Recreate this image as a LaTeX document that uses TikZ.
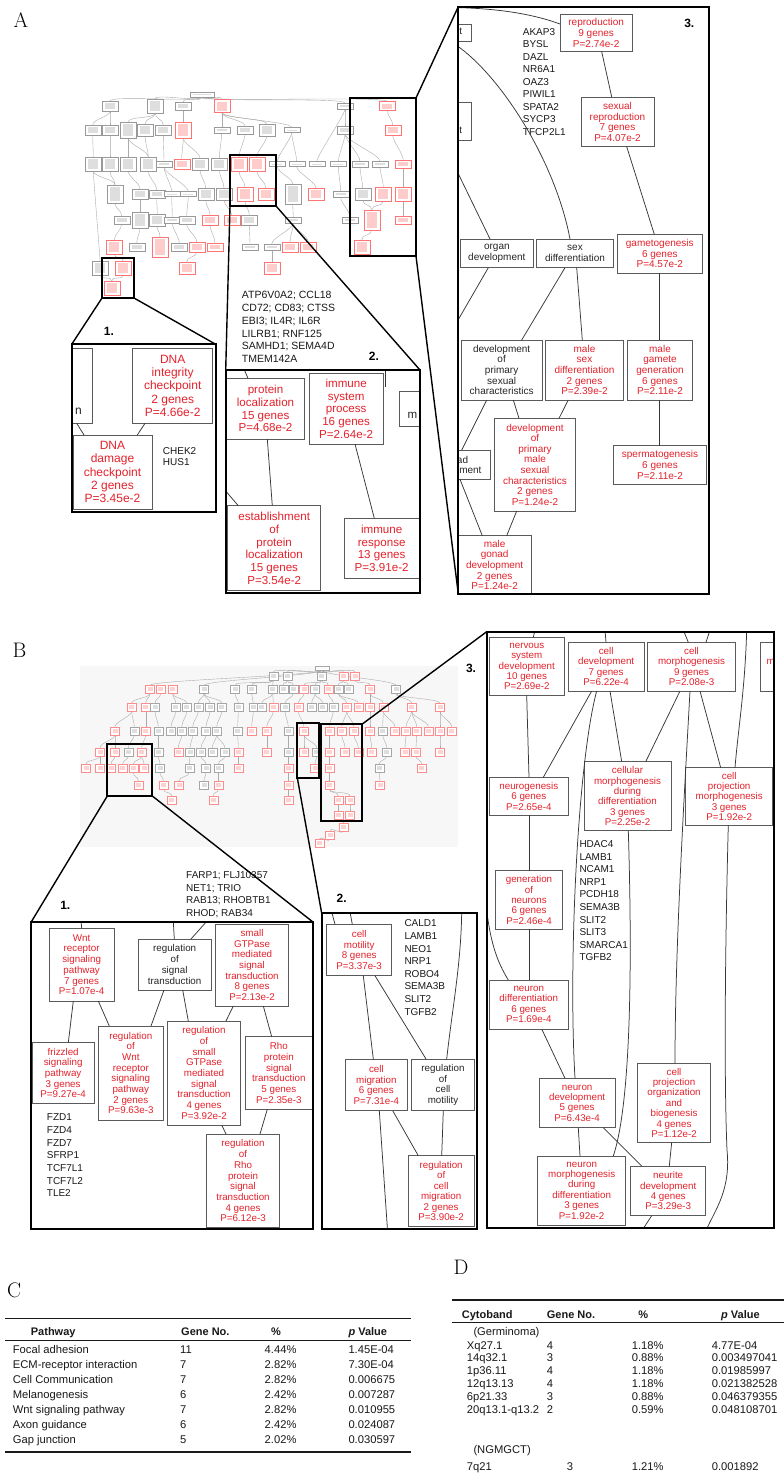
\documentclass[tikz,border=0pt]{standalone}
\usepackage{fontspec}
\newfontfamily\arial{Liberation Sans}
\usetikzlibrary{calc}
\definecolor{gored}{RGB}{228,34,44}
\definecolor{boxgray}{RGB}{90,90,90}
\definecolor{linegray}{RGB}{55,55,55}
\definecolor{tabtext}{RGB}{25,25,25}
\pgfdeclarelayer{bg}
\pgfsetlayers{bg,main}
\newcommand\BX[7][]{\node[#1,minimum width={(#5-#3)*1pt},minimum height={(#6-#4)*1pt}] (#2) at ({(#3+#5)/2},{(#4+#6)/2}) {#7};}
\tikzset{
  gob/.style={rectangle,draw=boxgray,line width=0.8pt,fill=white,inner sep=1pt,outer sep=0pt,align=center,text=gored},
  gok/.style={gob,text=black!85},
  fA1/.style={font=\arial\fontsize{12}{13.3}\selectfont},
  fA2/.style={font=\arial\fontsize{11.6}{12.7}\selectfont},
  fA3/.style={font=\arial\fontsize{10}{10.6}\selectfont},
  fB1/.style={font=\arial\fontsize{9.8}{10.7}\selectfont},
  fB2/.style={font=\arial\fontsize{9.8}{10.5}\selectfont},
  fB3/.style={font=\arial\fontsize{9.8}{10.4}\selectfont},
  glist/.style={anchor=west,align=left,inner sep=0pt,text=black!90,font=\arial\fontsize{10}{12.5}\selectfont},
  frag/.style={inner sep=0pt,text=black!85},
  conn/.style={draw=linegray,line width=0.75pt},
  panelbox/.style={rectangle,draw=black,line width=1.8pt,inner sep=0pt,outer sep=0pt},
  zoombox/.style={rectangle,draw=black,line width=1.8pt,inner sep=0pt,outer sep=0pt},
  zoomline/.style={draw=black,line width=1.4pt},
  numlab/.style={font=\arial\bfseries\fontsize{12}{12}\selectfont,inner sep=0pt},
  panlab/.style={font=\fontsize{21}{21}\selectfont,inner sep=0pt},
  tbase/.style={rectangle,inner sep=0pt,outer sep=0pt,fill=white,line width=0.4pt,minimum width=16pt},
  tbg/.style={tbase,draw=black!40,path picture={\fill[black!13] ([shift={(3pt,-2pt)}]path picture bounding box.north west) rectangle ([shift={(-3pt,2pt)}]path picture bounding box.south east);}},
  tbr/.style={tbase,draw=red!55,path picture={\fill[red!20] ([shift={(3pt,-2pt)}]path picture bounding box.north west) rectangle ([shift={(-3pt,2pt)}]path picture bounding box.south east);}},
  sbase/.style={rectangle,inner sep=0pt,outer sep=0pt,fill=white,line width=0.35pt,minimum width=9pt,minimum height=8pt},
  sbg/.style={sbase,draw=black!35,path picture={\fill[black!13] ([shift={(2pt,-2pt)}]path picture bounding box.north west) rectangle ([shift={(-2pt,2pt)}]path picture bounding box.south east);}},
  sbr/.style={sbase,draw=red!45,path picture={\fill[red!18] ([shift={(2pt,-2pt)}]path picture bounding box.north west) rectangle ([shift={(-2pt,2pt)}]path picture bounding box.south east);}},
  thedge/.style={draw=black!33,line width=0.4pt},
  tabt/.style={font=\arial\fontsize{11.2}{13}\selectfont,text=tabtext,inner sep=0pt},
  tabh/.style={font=\arial\bfseries\fontsize{11}{13}\selectfont,text=tabtext,inner sep=0pt},
}
\begin{document}
\begin{tikzpicture}[x=1pt,y=-1pt]
\useasboundingbox (0,0) rectangle (784,1473);
\begin{pgfonlayer}{bg}
\fill[white] (0,0) rectangle (784,1473);
\fill[black!3] (80,666) rectangle (458,847);
\end{pgfonlayer}

% ---------- panel labels
\node[panlab] (labA) at (21,20.3) {A};
\node[panlab] (labB) at (19.5,650.8) {B};
\node[panlab] (labC) at (14.2,1290.8) {C};
\node[panlab] (labD) at (461,1267.5) {D};

% ---------- thumbnail A
\node[tbg,minimum width=24pt,minimum height=5pt] (a0-1) at (201.7,94.3) {};
\foreach \x/\c/\h [count=\k] in {110/tbg/10,155/tbg/14,183.3/tbg/8,221.7/tbr/13,345/tbg/6,387.3/tbr/9}
  \node[\c,minimum height=\h pt] (a1-\k) at (\x,106) {};
\foreach \x/\c/\h [count=\k] in {92.7/tbg/10,110/tbg/10,128.3/tbg/16,145/tbg/12,163.3/tbg/10,183.3/tbr/16,221.7/tbg/6,245/tbg/8,266.7/tbg/12,291.7/tbg/5,345/tbg/8,392.7/tbr/10}
  \node[\c,minimum height=\h pt] (a2-\k) at (\x,130) {};
\foreach \x/\c/\h [count=\k] in {93.3/tbg/14,110/tbg/14,128.3/tbg/14,148.3/tbg/14,164/tbg/6,181.7/tbr/10,200/tbg/12,219.3/tbg/12,239/tbr/14,256.7/tbr/14,277.3/tbg/5,296.7/tbg/5,316.7/tbg/5,338.3/tbg/5,360/tbg/6,380/tbg/6,403.3/tbr/8}
  \node[\c,minimum height=\h pt] (a3-\k) at (\x,164) {};
\foreach \x/\c/\h [count=\k] in {115/tbg/18,140/tbg/10,156.7/tbg/8,171.7/tbg/5,188.3/tbg/5,205.7/tbg/12,224/tbg/12,245/tbr/14,266/tbr/12,292.7/tbg/20,316/tbr/12,340.7/tbg/6,362.7/tbg/12,383.3/tbr/14,403.3/tbr/14}
  \node[\c,minimum height=\h pt] (a4-\k) at (\x,194) {};
\foreach \x/\c/\h [count=\k] in {121.7/tbg/8,140/tbg/16,157.3/tbg/12,172.3/tbg/6,186.7/tbg/8,210/tbr/10,231.7/tbr/10,249.3/tbg/10,293.3/tbg/6,350/tbg/6,371.7/tbr/20,403.3/tbr/8}
  \node[\c,minimum height=\h pt] (a5-\k) at (\x,220) {};
\foreach \x/\c/\h [count=\k] in {114.3/tbr/14,136.7/tbg/8,160/tbr/20,179.3/tbg/8,196.7/tbr/10,215/tbr/8,250/tbg/6,271.7/tbg/6,290/tbr/10,308.3/tbr/10,361.7/tbr/14}
  \node[\c,minimum height=\h pt] (a6-\k) at (\x,247) {};
\foreach \x/\c/\h [count=\k] in {100/tbg/14,123.3/tbr/14,186.7/tbr/12,271.7/tbr/12}
  \node[\c,minimum height=\h pt] (a7-\k) at (\x,268) {};
\node[tbr,minimum height=14pt] (a8-1) at (111.7,288) {};
\begin{pgfonlayer}{bg}
\foreach \p/\q in {a0-1/a1-1,a0-1/a1-2,a0-1/a1-3,a0-1/a1-4,a0-1/a1-5,a0-1/a1-6,
 a1-1/a2-1,a1-1/a2-2,a1-2/a2-3,a1-2/a2-4,a1-2/a2-5,a1-3/a2-6,a1-4/a2-7,a1-4/a2-8,a1-4/a2-9,a1-4/a2-10,a1-5/a2-11,a1-5/a3-13,a1-6/a2-12,
 a2-1/a3-1,a2-2/a3-2,a2-3/a3-3,a2-3/a3-4,a2-4/a3-4,a2-5/a3-5,a2-6/a3-6,a2-6/a3-7,a2-7/a3-8,a2-8/a3-9,a2-9/a3-10,a2-10/a3-11,a2-10/a3-12,a2-11/a3-14,a2-11/a3-15,a2-11/a3-16,a2-12/a3-17,
 a3-1/a4-1,a3-2/a4-1,a3-3/a4-2,a3-4/a4-3,a3-5/a4-4,a3-5/a4-5,a3-7/a4-6,a3-8/a4-7,a3-9/a4-8,a3-10/a4-9,a3-11/a4-10,a3-12/a4-11,a3-14/a4-12,a3-15/a4-13,a3-16/a4-14,a3-17/a4-15,
 a4-1/a5-1,a4-2/a5-2,a4-3/a5-3,a4-4/a5-4,a4-5/a5-5,a4-6/a5-6,a4-7/a5-7,a4-8/a5-8,a4-10/a5-9,a4-12/a5-10,a4-13/a5-11,a4-14/a5-11,a4-15/a5-12,
 a5-1/a6-1,a5-2/a6-2,a5-3/a6-3,a5-4/a6-4,a5-5/a6-5,a5-6/a6-6,a5-8/a6-7,a5-9/a6-8,a5-9/a6-9,a5-9/a6-10,a5-11/a6-11,
 a3-1/a7-1,a6-1/a7-2,a6-5/a7-3,a6-8/a7-4,a7-1/a8-1,a7-2/a8-1}
  \draw[thedge] (\p.south) .. controls +(0,6) and +(0,-6) .. (\q.north);
\end{pgfonlayer}
\BX[zoombox]{zA1}{102}{258}{134}{298}{}
\BX[zoombox]{zA2}{230}{155}{276}{206}{}
\BX[zoombox]{zA3}{350}{98}{416}{256}{}

% ---------- thumbnail B
\node[sbg,minimum width=14pt,minimum height=4pt] (b0-1) at (321.7,668.3) {};
\foreach \x/\c [count=\k] in {273.3/sbg,287.3/sbg,321.7/sbg,343.3/sbr,355/sbr}
  \node[\c] (b1-\k) at (\x,676) {};
\foreach \x/\c [count=\k] in {150/sbr,160.7/sbr,172.7/sbr,204/sbg,235/sbg,251.7/sbg,272.7/sbg,283.3/sbg,293.3/sbg,304/sbr,315/sbg,328.3/sbr,338.3/sbg,348.3/sbg,370/sbr,396/sbg}
  \node[\c] (b2-\k) at (\x,689.3) {};
\foreach \x/\c [count=\k] in {131.7/sbr,145.7/sbr,155/sbg,175.7/sbg,186.7/sbg,198.3/sbg,210/sbg,221.7/sbg,238.3/sbg,253.3/sbg,261.7/sbg,273.3/sbr,285/sbg,298.3/sbr,311.7/sbg,322.7/sbg,333.3/sbg,346.7/sbr,358.3/sbr,370/sbr,383.3/sbr,411.7/sbr,440/sbr}
  \node[\c] (b3-\k) at (\x,707.3) {};
\foreach \x/\c [count=\k] in {115/sbr,134.3/sbg,145.7/sbr,158.3/sbg,171/sbg,181.7/sbg,192.7/sbg,206/sbg,216.7/sbg,237.7/sbg,251.7/sbr,266.7/sbr,288.3/sbg,304/sbr,329.3/sbr,341.7/sbr,354/sbr,370/sbr,382.7/sbg,395/sbr,406/sbr,416.7/sbr,428.3/sbr,440/sbr,451.7/sbr}
  \node[\c] (b4-\k) at (\x,730.7) {};
\foreach \x/\c [count=\k] in {100/sbr,115/sbr,128.3/sbg,141.7/sbr,158.3/sbg,178.3/sbr,190/sbg,201/sbg,212.3/sbg,225/sbg,238.3/sbr,266.7/sbr,288.3/sbg,304/sbr,316.7/sbg,329.3/sbr,345/sbr,358.3/sbr,371.7/sbr,386.7/sbg,405/sbr,416/sbr,440/sbr}
  \node[\c] (b5-\k) at (\x,751.7) {};
\foreach \x/\c [count=\k] in {86/sbr,100/sbr,111/sbr,122.7/sbr,133.3/sbr,144/sbr,160/sbg,189.3/sbg,206/sbg,218.3/sbg,238.3/sbr,288.3/sbr,315/sbr,329.3/sbr,379.3/sbg,421.7/sbr}
  \node[\c] (b6-\k) at (\x,768.3) {};
\foreach \x/\c [count=\k] in {138.3/sbr,163.3/sbr,179/sbr,204/sbg,218.3/sbr,288.3/sbr,329.3/sbr,380/sbr}
  \node[\c] (b7-\k) at (\x,785) {};
\foreach \x/\c [count=\k] in {171.7/sbr,213.3/sbr,288.3/sbr,338.3/sbr,350/sbr}
  \node[\c] (b8-\k) at (\x,800) {};
\foreach \x/\c [count=\k] in {338.3/sbr,350/sbr}
  \node[\c] (b9-\k) at (\x,815) {};
\node[sbr] (b10-1) at (343.3,826.7) {};
\node[sbr] (b10-2) at (330,835) {};
\node[sbr] (b10-3) at (319.3,843.3) {};
\begin{pgfonlayer}{bg}
\foreach \p/\q in {b0-1/b1-1,b0-1/b1-2,b0-1/b1-3,b0-1/b1-4,b0-1/b1-5,b0-1/b2-1,b0-1/b2-4,b0-1/b2-16,
b1-1/b2-5,b1-1/b2-6,b1-1/b2-7,b1-2/b2-8,b1-2/b2-9,b1-3/b2-10,b1-3/b2-11,b1-3/b2-12,b1-4/b2-13,b1-4/b2-14,b1-5/b2-15,
b2-1/b3-1,b2-1/b3-2,b2-2/b3-3,b2-3/b3-4,b2-3/b3-5,b2-4/b3-6,b2-4/b3-7,b2-4/b3-8,b2-5/b3-9,b2-6/b3-10,b2-7/b3-11,b2-7/b3-12,b2-9/b3-13,b2-10/b3-14,b2-11/b3-15,b2-11/b3-16,b2-12/b3-17,b2-13/b3-18,b2-13/b3-19,b2-15/b3-20,b2-15/b3-21,b2-16/b3-22,b2-16/b3-23,
b3-1/b4-1,b3-1/b4-2,b3-2/b4-3,b3-3/b4-4,b3-4/b4-5,b3-5/b4-6,b3-6/b4-7,b3-7/b4-8,b3-8/b4-9,b3-9/b4-10,b3-10/b4-11,b3-12/b4-12,b3-13/b4-13,b3-14/b4-14,b3-17/b4-15,b3-18/b4-16,b3-18/b4-17,b3-20/b4-18,b3-21/b4-19,b3-21/b4-20,b3-22/b4-21,b3-22/b4-22,b3-22/b4-23,b3-23/b4-24,b3-23/b4-25,
b4-1/b5-1,b4-1/b5-2,b4-2/b5-3,b4-3/b5-4,b4-4/b5-5,b4-6/b5-6,b4-7/b5-7,b4-8/b5-8,b4-9/b5-9,b4-9/b5-10,b4-10/b5-11,b4-12/b5-12,b4-13/b5-13,b4-14/b5-14,b4-14/b5-15,b4-15/b5-16,b4-16/b5-17,b4-17/b5-18,b4-18/b5-19,b4-19/b5-20,b4-21/b5-21,b4-22/b5-22,b4-24/b5-23,
b5-1/b6-1,b5-1/b6-2,b5-2/b6-3,b5-3/b6-4,b5-4/b6-5,b5-4/b6-6,b5-5/b6-7,b5-7/b6-8,b5-8/b6-9,b5-10/b6-10,b5-11/b6-11,b5-13/b6-12,b5-15/b6-13,b5-16/b6-14,b5-20/b6-15,b5-22/b6-16,
b6-5/b7-1,b6-7/b7-2,b6-8/b7-3,b6-9/b7-4,b6-10/b7-5,b6-12/b7-6,b6-14/b7-7,b6-15/b7-8,
b7-2/b8-1,b7-5/b8-2,b7-6/b8-3,b7-7/b8-4,b7-7/b8-5,b8-4/b9-1,b8-5/b9-2,b9-2/b10-1,b10-1/b10-2,b10-2/b10-3}
  \draw[thedge] (\p.south) .. controls +(0,5) and +(0,-5) .. (\q.north);
\end{pgfonlayer}
\BX[zoombox]{zB1}{107.3}{744}{152.3}{796}{}
\BX[zoombox]{zB2}{297.3}{722.7}{319.3}{777.7}{}
\BX[zoombox]{zB3}{320.7}{724}{362.3}{820.7}{}

% ---------- panel A1
\begin{scope}
\clip (71.7,344.3) rectangle (215.7,512.3);
\BX[gok,fA1]{a1n}{40}{348.3}{92.3}{423.3}{}
\node[frag,fA1,anchor=east] (a1nt) at (82,411.7) {n};
\BX[gob,fA1]{dic}{132.7}{348.3}{212.7}{423.3}{DNA\\integrity\\checkpoint\\2 genes\\P=4.66e-2}
\BX[gob,fA1]{ddc}{73}{435}{152}{509}{DNA\\damage\\checkpoint\\2 genes\\P=3.45e-2}
\draw[conn] ([xshift=36.7pt]a1n.south west) -- ([xshift=11pt]ddc.north west);
\draw[conn] ([xshift=12.3pt]dic.south west) -- ([xshift=64.3pt]ddc.north west);
\node[glist,font=\arial\fontsize{10}{11}\selectfont] (a1g) at (162.7,456.5) {CHEK2\\HUS1};
\end{scope}
\BX[panelbox]{pA1}{71.7}{344.3}{215.7}{512.3}{}
\node[numlab] (n1a) at (109,331.7) {1.};

% ---------- panel A2
\node[glist,font=\arial\fontsize{10.5}{12.7}\selectfont] (a2g) at (241.7,327) {ATP6V0A2; CCL18\\CD72; CD83; CTSS\\EBI3; IL4R; IL6R\\LILRB1; RNF125\\SAMHD1; SEMA4D\\TMEM142A};
\begin{scope}
\clip (225.7,370) rectangle (420,593.3);
\BX[gob,fA2]{pl}{226.7}{378.3}{304.3}{439}{protein\\localization\\15 genes\\P=4.68e-2}
\BX[gob,fA2]{isp}{309}{373.3}{383.3}{444}{immune\\system\\process\\16 genes\\P=2.64e-2}
\BX[gok,fA2]{a2m}{399}{391.7}{450}{426.7}{}
\node[frag,fA2,anchor=west] (a2mt) at (407.5,415.7) {m};
\BX[gob,fA2]{epl}{227.7}{505.7}{320.7}{590.7}{establishment\\of\\protein\\localization\\15 genes\\P=3.54e-2}
\BX[gob,fA2]{ir}{344.3}{518.3}{419}{578.3}{immune\\response\\13 genes\\P=3.91e-2}
\coordinate (a2c1) at (244,369);
\draw[conn] (a2c1) -- ([xshift=21.3pt]pl.north west);
\draw[conn] ([xshift=40.6pt]pl.south west) -- ([xshift=44.6pt]epl.north west);
\draw[conn] ([xshift=46pt]isp.south west) -- ([xshift=30pt]ir.north west);
\coordinate (a2c2) at (224,489);
\draw[conn] (a2c2) -- ([xshift=10.6pt]epl.north west);
\coordinate (a2c3) at (385.5,369);
\coordinate (a2c4) at (385.5,387);
\draw[conn] (a2c3) -- (a2c4);
\end{scope}
\BX[panelbox]{pA2}{225.7}{370}{420}{593.3}{}
\node[numlab] (n2a) at (374,356.3) {2.};

% ---------- panel A3
\begin{scope}
\clip (458.3,6.7) rectangle (709,594);
\BX[gok,fA3]{a3t1}{420}{24.3}{471.7}{41}{}
\node[frag,fA3,anchor=east] (a3t1t) at (462.3,31.7) {t};
\BX[gok,fA3]{a3t2}{420}{102.7}{471.7}{140.7}{}
\node[frag,fA3,anchor=east] (a3t2t) at (462.3,130.7) {t};
\BX[gob,fA3]{rep}{560}{14}{632.3}{51.7}{reproduction\\9 genes\\P=2.74e-2}
\BX[gob,fA3]{sr}{581}{97}{654}{146.7}{sexual\\reproduction\\7 genes\\P=4.07e-2}
\BX[gok,fA3]{od}{460.7}{239}{533}{267.7}{organ\\development}
\BX[gok,fA3]{sd}{536.7}{239}{613.3}{267.7}{sex\\differentiation}
\BX[gob,fA3]{gam}{617.3}{234.3}{702.3}{273.3}{gametogenesis\\6 genes\\P=4.57e-2}
\BX[gok,fA3]{dps}{461}{340}{542.3}{400}{development\\of\\primary\\sexual\\characteristics}
\BX[gob,fA3]{msd}{545.7}{340}{623.3}{400}{male\\sex\\differentiation\\2 genes\\P=2.39e-2}
\BX[gob,fA3]{mgg}{627.3}{340}{692.7}{400}{male\\gamete\\generation\\6 genes\\P=2.11e-2}
\BX[gob,fA3]{dpm}{494.3}{418.3}{575.7}{511}{development\\of\\primary\\male\\sexual\\characteristics\\2 genes\\P=1.24e-2}
\BX[gob,fA3]{sperm}{613.3}{445.7}{706.7}{484}{spermatogenesis\\6 genes\\P=2.11e-2}
\BX[gok,fA3]{gon}{418.3}{450}{490.7}{479.3}{}
\node[frag,fA3,anchor=east] (gont1) at (468.3,460) {ad};
\node[frag,fA3,anchor=east] (gont2) at (481.7,470) {ment};
\BX[gob,fA3]{mgd}{458.3}{535.7}{531}{594}{male\\gonad\\development\\2 genes\\P=1.24e-2}
\node[glist] (a3g) at (522.7,81.7) {AKAP3\\BYSL\\DAZL\\NR6A1\\OAZ3\\PIWIL1\\SPATA2\\SYCP3\\TFCP2L1};
\draw[conn] ([xshift=41.7pt]rep.south west) -- ([xshift=30.7pt]sr.north west);
\draw[conn] ([xshift=45.7pt]sr.south west) -- ([xshift=37pt]gam.north west);
\coordinate (a3c1) at (455,7.5);
\draw[conn] (a3c1) .. controls (495,8.5) and (530,13) .. ([yshift=-10pt]rep.north west);
\coordinate (a3c2) at (456,45);
\draw[conn] (a3c2) .. controls (500,75) and (555,160) .. ([xshift=33.3pt]sd.north west);
\coordinate (a3c3) at (456,169);
\draw[conn] (a3c3) -- ([xshift=29.3pt]od.north west);
\coordinate (a3c4) at (452,330.5);
\draw[conn] ([xshift=27.6pt]od.south west) -- (a3c4);
\draw[conn] ([xshift=28.3pt]sd.south west) -- ([xshift=60.7pt]dps.north west);
\draw[conn] ([xshift=40pt]sd.south west) -- ([xshift=36.6pt]msd.north west);
\draw[conn] ([xshift=42pt]gam.south west) -- ([xshift=32pt]mgg.north west);
\draw[conn] ([xshift=25.7pt]dps.south west) -- ([xshift=43.4pt]gon.north west);
\draw[conn] ([xshift=52.3pt]dps.south west) -- ([xshift=24.7pt]dpm.north west);
\draw[conn] ([xshift=22.6pt]msd.south west) -- ([xshift=64.7pt]dpm.north west);
\draw[conn] ([xshift=32pt]mgg.south west) -- ([xshift=46pt]sperm.north west);
\draw[conn] ([xshift=41.7pt]gon.south west) -- ([xshift=24pt]mgd.north west);
\draw[conn] ([xshift=22.4pt]dpm.south west) -- ([xshift=48.4pt]mgd.north west);
\end{scope}
\BX[panelbox]{pA3}{458.3}{6.7}{709}{594}{}
\node[numlab] (n3a) at (689.3,23.3) {3.};

% zoom lines A
\draw[zoomline] (zA1.south west) -- (pA1.north west);
\draw[zoomline] (zA1.south east) -- (pA1.north east);
\draw[zoomline] (zA2.south west) -- (pA2.north west);
\draw[zoomline] (zA2.south east) -- (pA2.north east);
\draw[zoomline] (zA3.north east) -- (pA3.north west);
\draw[zoomline] (zA3.south east) -- (pA3.south west);

% ---------- panel B1
\node[glist] (b1g1) at (186,894.5) {FARP1; FLJ10357\\NET1; TRIO\\RAB13; RHOBTB1\\RHOD; RAB34};
\begin{scope}
\clip (31,922.3) rectangle (313.3,1229.3);
\BX[gob,fB1]{wnt}{49.3}{928.3}{114}{1001}{Wnt\\receptor\\signaling\\pathway\\7 genes\\P=1.07e-4}
\BX[gok,fB1]{rst}{138.3}{939}{211}{990}{regulation\\of\\signal\\transduction}
\BX[gob,fB1]{sgt}{215.7}{924}{288.3}{1006}{small\\GTPase\\mediated\\signal\\transduction\\8 genes\\P=2.13e-2}
\BX[gob,fB1]{fzd}{32.3}{1042.7}{94}{1103.3}{frizzled\\signaling\\pathway\\3 genes\\P=9.27e-4}
\BX[gob,fB1]{rwnt}{98.3}{1026}{163.3}{1120}{regulation\\of\\Wnt\\receptor\\signaling\\pathway\\2 genes\\P=9.63e-3}
\BX[gob,fB1]{rsg}{167.3}{1021}{240.7}{1125}{regulation\\of\\small\\GTPase\\mediated\\signal\\transduction\\4 genes\\P=3.92e-2}
\BX[gob,fB1]{rho}{245}{1036.7}{312.7}{1109.3}{Rho\\protein\\signal\\transduction\\5 genes\\P=2.35e-3}
\BX[gob,fB1]{rrho}{206.7}{1134}{279.3}{1227.7}{regulation\\of\\Rho\\protein\\signal\\transduction\\4 genes\\P=6.12e-3}
\node[glist,font=\arial\fontsize{10}{12.67}\selectfont] (b1g2) at (46.7,1155.3) {FZD1\\FZD4\\FZD7\\SFRP1\\TCF7L1\\TCF7L2\\TLE2};
\coordinate (b1c1) at (81,921);
\draw[conn] (b1c1) -- ([xshift=32.4pt]wnt.north west);
\coordinate (b1c2) at (173.3,921);
\draw[conn] (b1c2) -- ([xshift=36pt]rst.north west);
\coordinate (b1c3) at (207,921);
\draw[conn] (b1c3) -- ([xshift=52.7pt]rst.north west);
\draw[conn] ([xshift=24pt]wnt.south west) -- ([xshift=36pt]fzd.north west);
\draw[conn] ([xshift=49pt]wnt.south west) -- ([xshift=11pt]rwnt.north west);
\draw[conn] ([xshift=25.7pt]rst.south west) -- ([xshift=52.7pt]rwnt.north west);
\draw[conn] ([xshift=44.4pt]rst.south west) -- ([xshift=21pt]rsg.north west);
\draw[conn] ([xshift=17.6pt]sgt.south west) -- ([xshift=58.7pt]rsg.north west);
\draw[conn] ([xshift=47.6pt]sgt.south west) -- ([xshift=26.7pt]rho.north west);
\draw[conn] ([xshift=54.4pt]rsg.south west) -- ([xshift=19.3pt]rrho.north west);
\draw[conn] ([xshift=22.3pt]rho.south west) -- ([xshift=53.3pt]rrho.north west);
\end{scope}
\BX[panelbox]{pB1}{31}{922.3}{313.3}{1229.3}{}
\node[numlab] (n1b) at (65.3,905.7) {1.};

% ---------- panel B2
\begin{scope}
\clip (321.7,913.3) rectangle (477.3,1229.3);
\BX[gob,fB2]{cmot}{326.7}{924.3}{391.7}{975.7}{cell\\motility\\8 genes\\P=3.37e-3}
\BX[gob,fB2]{cmig}{345}{1059}{407.7}{1110.7}{cell\\migration\\6 genes\\P=7.31e-4}
\BX[gok,fB2]{rcm}{411.7}{1059}{474.3}{1110.7}{regulation\\of\\cell\\motility}
\BX[gob,fB2]{rcmig}{408.3}{1155.7}{474}{1226.7}{regulation\\of\\cell\\migration\\2 genes\\P=3.90e-2}
\node[glist,font=\arial\fontsize{10}{12.6}\selectfont] (b2g) at (404.3,967.5) {CALD1\\LAMB1\\NEO1\\NRP1\\ROBO4\\SEMA3B\\SLIT2\\TGFB2};
\coordinate (b2c1) at (331.7,912);
\draw[conn] (b2c1) -- ([xshift=8.3pt]cmot.north west);
\coordinate (b2c2) at (350,912);
\draw[conn] (b2c2) -- ([xshift=25.6pt]cmot.north west);
\draw[conn] ([xshift=36.6pt]cmot.south west) -- ([xshift=28.3pt]cmig.north west);
\draw[conn] ([xshift=48.3pt]cmot.south west) -- ([xshift=14.3pt]rcm.north west);
\coordinate (b2c3) at (461.7,912);
\draw[conn] (b2c3) .. controls (461,965) and (452,1010) .. ([xshift=35pt]rcm.north west);
\draw[conn] ([xshift=47.7pt]cmig.south west) -- ([xshift=10pt]rcmig.north west);
\draw[conn] ([xshift=31.6pt]rcm.south west) -- ([xshift=33.4pt]rcmig.north west);
\coordinate (b2c4) at (387.5,1230);
\draw[conn] ([xshift=34.3pt]cmig.south west) -- (b2c4);
\end{scope}
\BX[panelbox]{pB2}{321.7}{913.3}{477.3}{1229.3}{}
\node[numlab] (n2b) at (341.7,898.3) {2.};

% ---------- panel B3
\begin{scope}
\clip (486.7,631.7) rectangle (774,1227.7);
\BX[gob,fB3]{nsd}{489.3}{637.3}{564.3}{695.7}{nervous\\system\\development\\10 genes\\P=2.69e-2}
\BX[gob,fB3]{cdev}{568.3}{642.3}{644}{691}{cell\\development\\7 genes\\P=6.22e-4}
\BX[gob,fB3]{cmorph}{647.3}{642.3}{735.7}{691}{cell\\morphogenesis\\9 genes\\P=2.08e-3}
\BX[gob,fB3]{b3m}{760.7}{642.3}{810}{691}{}
\node[frag,fB3,text=gored,anchor=west] (b3mt) at (766.5,661.7) {m};
\BX[gob,fB3]{neurog}{489.3}{777.3}{568.3}{815}{neurogenesis\\6 genes\\P=2.65e-4}
\BX[gob,fB3]{cmdd}{584}{761.7}{671}{830.7}{cellular\\morphogenesis\\during\\differentiation\\3 genes\\P=2.25e-2}
\BX[gob,fB3]{cpm}{685.7}{767.7}{772.7}{825}{cell\\projection\\morphogenesis\\3 genes\\P=1.92e-2}
\BX[gob,fB3]{gon2}{495.7}{870.7}{562.3}{929.3}{generation\\of\\neurons\\6 genes\\P=2.46e-4}
\BX[gob,fB3]{ndiff}{489.3}{980}{568.3}{1029}{neuron\\differentiation\\6 genes\\P=1.69e-4}
\BX[gob,fB3]{ndev}{539.3}{1078.3}{615}{1127.7}{neuron\\development\\5 genes\\P=6.43e-4}
\BX[gob,fB3]{cpob}{637.3}{1063.3}{710.7}{1142.3}{cell\\projection\\organization\\and\\biogenesis\\4 genes\\P=1.12e-2}
\BX[gob,fB3]{nmdd}{537.7}{1156}{625.7}{1225}{neuron\\morphogenesis\\during\\differentiation\\3 genes\\P=1.92e-2}
\BX[gob,fB3]{nd}{630.7}{1166}{705.7}{1215.7}{neurite\\development\\4 genes\\P=3.29e-3}
\node[glist,font=\arial\fontsize{10}{12.55}\selectfont] (b3g) at (579.3,900.8) {HDAC4\\LAMB1\\NCAM1\\NRP1\\PCDH18\\SEMA3B\\SLIT2\\SLIT3\\SMARCA1\\TGFB2};
\coordinate (b3c1) at (535,630);
\draw[conn] (b3c1) -- ([xshift=44pt]nsd.north west);
\coordinate (b3c2) at (605,630);
\draw[conn] (b3c2) -- ([xshift=37.7pt]cdev.north west);
\coordinate (b3c3) at (683.3,630);
\draw[conn] (b3c3) -- ([xshift=41pt]cmorph.north west);
\coordinate (b3c4) at (710,630);
\draw[conn] (b3c4) -- ([xshift=58.7pt]cmorph.north west);
\coordinate (b3c5) at (746.7,630);
\draw[conn] (b3c5) .. controls (745,690) and (738,730) .. ([xshift=49.3pt]cpm.north west);
\draw[conn] ([xshift=37.4pt]nsd.south west) -- ([xshift=39.7pt]neurog.north west);
\draw[conn] ([xshift=23.4pt]cdev.south west) -- ([xshift=54pt]neurog.north west);
\draw[conn] ([xshift=41.7pt]cdev.south west) -- ([xshift=37.7pt]cmdd.north west);
\draw[conn] ([xshift=28.4pt]cdev.south west) .. controls (578,760) and (568,960) .. ([xshift=35.7pt]ndev.north west);
\draw[conn] ([xshift=32.7pt]cmorph.south west) -- ([xshift=61.7pt]cmdd.north west);
\draw[conn] ([xshift=52.7pt]cmorph.south west) -- ([xshift=35pt]cpm.north west);
\draw[conn] ([xshift=42.7pt]cmorph.south west) .. controls (684,800) and (675,950) .. ([xshift=37.7pt]cpob.north west);
\draw[conn] ([xshift=44.3pt]cmdd.south west) .. controls (632,950) and (632,1100) .. ([xshift=75.6pt]nmdd.north west);
\coordinate (b3c6) at (706.7,1229);
\draw[conn] ([xshift=42.6pt]cpm.south west) .. controls (725,950) and (724,1080) .. (727,1150) .. controls (731,1190) and (715,1210) .. (b3c6);
\draw[conn] ([xshift=39.7pt]neurog.south west) -- ([xshift=33.3pt]gon2.north west);
\draw[conn] ([xshift=33.3pt]gon2.south west) -- ([xshift=39.7pt]ndiff.north west);
\coordinate (b3c7) at (486,905);
\draw[conn] (b3c7) .. controls (490,940) and (496,960) .. ([xshift=19pt]ndiff.north west);
\draw[conn] ([xshift=52.4pt]ndiff.south west) -- ([xshift=25.7pt]ndev.north west);
\draw[conn] ([xshift=39pt]ndev.south west) -- ([xshift=42.3pt]nmdd.north west);
\draw[conn] ([xshift=64pt]ndev.south west) -- ([xshift=11pt]nd.north west);
\draw[conn] ([xshift=34.4pt]cpob.south west) -- ([xshift=38.6pt]nd.north west);
\coordinate (b3c8) at (643,1229);
\draw[conn] ([xshift=21pt]nd.south west) -- (b3c8);
\end{scope}
\BX[panelbox]{pB3}{486.7}{631.7}{774}{1227.7}{}
\node[numlab] (n3b) at (471,668.3) {3.};

% zoom lines B
\draw[zoomline] (zB1.south west) -- (pB1.north west);
\draw[zoomline] (zB1.south east) -- (pB1.north east);
\draw[zoomline] (zB2.south west) -- (pB2.north west);
\draw[zoomline] (zB3.north east) -- (pB3.north west);

% ---------- table C
\draw[line width=1.6pt,tabtext] (5,1318.3) -- (410.7,1318.3);
\node[tabh,anchor=base west] (ch1) at (30.7,1335) {Pathway};
\node[tabh,anchor=base west] (ch2) at (181,1335) {Gene No.};
\node[tabh,anchor=base] (ch3) at (276,1335) {\%};
\node[tabh,anchor=base west] (ch4) at (348.3,1335) {\textit{p} Value};
\draw[line width=0.7pt,tabtext] (5,1340) -- (410.7,1340);
\foreach \n/\g/\pc/\pv [count=\i] in {Focal adhesion/11/4.44/1.45E-04,ECM-receptor interaction/7/2.82/7.30E-04,Cell Communication/7/2.82/0.006675,Melanogenesis/6/2.42/0.007287,Wnt signaling pathway/7/2.82/0.010955,Axon guidance/6/2.42/0.024087,Gap junction/5/2.02/0.030597}{
  \node[tabt,anchor=base west] (c\i-1) at (12.7,{1353.3+(\i-1)*15.1}) {\n};
  \node[tabt,anchor=base west] (c\i-2) at (180,{1353.3+(\i-1)*15.1}) {\g};
  \node[tabt,anchor=base east] (c\i-3) at (296.7,{1353.3+(\i-1)*15.1}) {\pc\%};
  \node[tabt,anchor=base west] (c\i-4) at (348.3,{1353.3+(\i-1)*15.1}) {\pv};
}
\draw[line width=1.6pt,tabtext] (5,1451.7) -- (410.7,1451.7);

% ---------- table D
\draw[line width=1.6pt,tabtext] (451.7,1300) -- (784,1300);
\node[tabh,anchor=base west] (dh1) at (461.7,1318.3) {Cytoband};
\node[tabh,anchor=base west] (dh2) at (546.7,1318.3) {Gene No.};
\node[tabh,anchor=base] (dh3) at (643.3,1318.3) {\%};
\node[tabh,anchor=base west] (dh4) at (721,1318.3) {\textit{p} Value};
\draw[line width=0.7pt,tabtext] (451.7,1322.7) -- (784,1322.7);
\node[tabt,anchor=base west] (dg1) at (473.3,1335.7) {(Germinoma)};
\foreach \n/\g/\pc/\pv [count=\i] in {Xq27.1/4/1.18/4.77E-04,14q32.1/3/0.88/0.003497041,1p36.11/4/1.18/0.01985997,12q13.13/4/1.18/0.021382528,6p21.33/3/0.88/0.046379355,20q13.1-q13.2/2/0.59/0.048108701}{
  \node[tabt,anchor=base west] (d\i-1) at (466.7,{1349+(\i-1)*12.86}) {\n};
  \node[tabt,anchor=base west] (d\i-2) at (546.7,{1349+(\i-1)*12.86}) {\g};
  \node[tabt,anchor=base west] (d\i-3) at (631.7,{1349+(\i-1)*12.86}) {\pc\%};
  \node[tabt,anchor=base west] (d\i-4) at (711.7,{1349+(\i-1)*12.86}) {\pv};
}
\node[tabt,anchor=base west] (dg2) at (473.3,1453) {(NGMGCT)};
\node[tabt,anchor=base west] (d7-1) at (466.7,1470) {7q21};
\node[tabt,anchor=base west] (d7-2) at (566.7,1470) {3};
\node[tabt,anchor=base west] (d7-3) at (631.7,1470) {1.21\%};
\node[tabt,anchor=base west] (d7-4) at (711.7,1470) {0.001892};
\end{tikzpicture}
\end{document}
